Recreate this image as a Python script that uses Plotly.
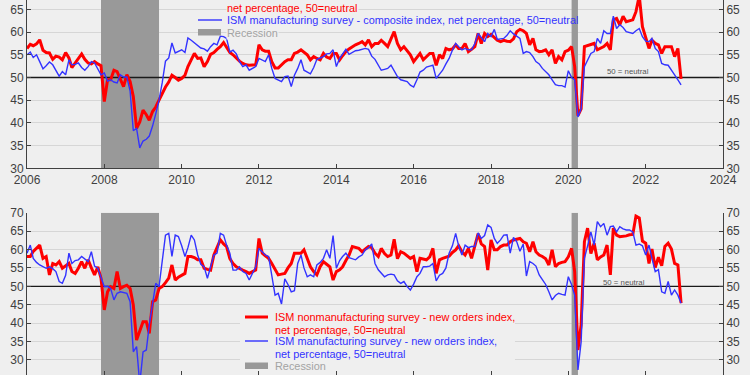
import pandas as pd
import plotly.graph_objects as go

months = pd.date_range("2006-01-01", "2022-12-01", freq="MS")

# ISM nonmanufacturing composite (top, red)
serv_comp = [
    56.4, 57.3, 57.0, 57.4, 58.3, 56.0, 55.5, 55.4, 54.0, 54.7, 54.5, 53.9,
    55.5, 54.3, 52.2, 53.2, 54.2, 55.2, 54.0, 53.2, 53.0, 53.5, 53.0, 52.6,
    44.7, 49.5, 49.5, 51.6, 51.3, 49.5, 48.0, 50.6, 49.1, 45.8, 38.8, 40.2,
    42.8, 41.8, 40.6, 42.5, 43.5, 45.0, 46.5, 47.9, 49.0, 50.5, 50.0, 49.4,
    49.8, 50.5, 52.4, 54.0, 55.3, 54.2, 54.3, 52.4, 53.5, 55.1, 55.5, 56.2,
    56.8, 57.7, 56.5, 55.5, 55.0, 54.2, 53.6, 53.1, 52.8, 52.7, 52.7, 52.8,
    57.2, 56.1, 55.8, 55.8, 53.5, 52.1, 52.1, 52.8, 53.5, 53.9, 53.9, 55.3,
    55.6, 56.1, 55.5, 55.0, 53.9, 54.6, 54.2, 53.9, 55.3, 54.5, 54.2, 55.3,
    55.3, 53.9, 54.8, 55.7, 56.3, 56.8, 57.2, 57.5, 57.9, 57.2, 58.3, 56.8,
    57.5, 57.5, 58.2, 57.5, 56.8, 58.5, 60.1, 57.5, 56.1, 56.8, 55.9, 55.0,
    53.5, 54.5, 55.3, 53.9, 54.6, 55.3, 55.3, 52.7, 55.0, 54.2, 56.4, 56.1,
    56.3, 57.2, 56.4, 56.4, 57.5, 55.7, 56.2, 56.8, 59.7, 57.5, 59.7, 59.0,
    59.5, 58.7, 58.2, 57.9, 58.2, 58.0, 57.9, 58.5, 60.1, 60.6, 60.3, 59.7,
    57.2, 58.6, 56.1, 55.7, 55.8, 56.1, 55.0, 56.1, 53.1, 54.6, 53.9, 55.7,
    56.0, 56.8, 52.4, 41.6, 43.1, 56.8, 57.0, 57.2, 57.5, 56.1, 56.5, 56.8,
    57.5, 56.1, 62.7, 63.0, 61.6, 63.5, 62.3, 62.5, 62.7, 64.5, 68.0, 61.2,
    59.0, 56.4, 58.2, 57.5, 57.2, 55.3, 56.8, 56.8, 56.8, 54.6, 56.4, 49.7,
]

# ISM manufacturing composite (top, blue)
mfg_comp = [
    55.0, 55.6, 54.4, 55.0, 53.5, 51.9, 52.6, 53.4, 52.8, 51.5, 50.3, 51.3,
    50.6, 53.9, 52.8, 52.9, 53.2, 52.2, 51.6, 52.4, 53.5, 53.2, 52.0, 50.6,
    51.0, 49.2, 49.5, 49.0, 48.8, 50.6, 50.1, 50.1, 47.0, 38.3, 38.8, 34.5,
    36.0, 36.4, 37.1, 39.3, 42.0, 45.0, 48.8, 53.6, 54.3, 57.6, 55.4, 55.8,
    56.1, 55.5, 58.7, 58.2, 57.6, 57.0, 56.5, 56.3, 55.8, 56.8, 57.5, 57.2,
    59.1, 59.0, 58.6, 55.6, 56.0, 55.2, 53.5, 52.4, 52.8, 51.6, 52.0, 52.4,
    54.2, 53.8, 53.5, 55.0, 52.0, 49.8, 49.5, 49.1, 50.2, 50.3, 48.0, 50.5,
    52.0, 53.9, 51.6, 51.2, 50.8, 52.2, 54.0, 54.3, 54.6, 55.2, 55.3, 56.1,
    52.4, 54.2, 55.1, 56.2, 55.1, 55.5, 55.9, 56.0, 56.2, 56.4, 56.2, 54.7,
    54.0, 52.7, 51.6, 51.8, 52.0, 52.7, 51.5, 50.2, 49.5, 49.3, 49.1, 48.3,
    47.9, 49.5, 51.2, 51.6, 52.3, 52.5, 52.7, 49.8, 50.7, 51.6, 53.0, 54.2,
    56.0, 57.5, 56.8, 56.1, 56.4, 56.1, 56.1, 57.5, 59.7, 58.8, 57.9, 59.7,
    59.0, 60.6, 58.4, 58.5, 58.6, 59.3, 60.3, 59.6, 59.0, 58.6, 55.3, 55.7,
    55.5, 54.6, 53.5, 53.0, 52.0, 51.2, 50.6, 49.5, 48.4, 48.2, 48.2, 47.9,
    51.5, 50.0, 49.5, 41.3, 43.1, 52.4, 54.0, 55.3, 55.7, 58.6, 57.5, 60.3,
    59.7, 59.7, 63.5, 60.8, 61.6, 61.0, 60.1, 59.9, 59.7, 60.3, 60.8, 59.0,
    58.0, 57.9, 58.6, 56.4, 55.7, 53.1, 52.8, 52.7, 51.5, 50.6, 49.5, 48.4,
]

# ISM nonmanufacturing new orders (bottom, red)
serv_new = [
    58.1, 58.1, 59.5, 60.5, 61.2, 57.6, 58.1, 53.1, 56.2, 55.8, 56.7, 54.9,
    55.5, 56.2, 54.0, 53.5, 54.9, 56.7, 54.9, 57.2, 55.0, 53.1, 55.3, 52.2,
    43.6, 48.5, 49.9, 49.4, 54.0, 49.4, 49.9, 50.3, 49.4, 44.9, 35.4, 37.7,
    40.4, 40.4, 37.2, 45.8, 46.3, 49.4, 49.9, 51.0, 52.2, 55.8, 51.7, 52.5,
    53.1, 53.5, 58.1, 58.1, 57.8, 57.2, 57.2, 54.9, 54.6, 54.4, 58.5, 60.3,
    62.6, 61.5, 60.8, 57.5, 56.2, 55.3, 54.8, 54.4, 54.0, 53.5, 54.0, 54.4,
    63.0, 59.0, 58.3, 57.6, 56.2, 54.5, 53.1, 53.3, 53.5, 55.0, 56.2, 59.0,
    59.0, 59.0, 59.9, 57.6, 55.3, 54.0, 53.1, 55.3, 56.7, 56.0, 55.3, 51.7,
    54.0, 54.5, 55.3, 57.0, 58.5, 60.8, 60.5, 60.3, 59.4, 60.0, 60.8, 60.5,
    59.0, 58.1, 60.3, 58.9, 58.1, 58.5, 62.8, 57.5, 59.4, 59.0, 58.2, 57.6,
    58.1, 54.0, 57.6, 57.4, 57.2, 58.0, 60.3, 53.5, 57.2, 57.6, 57.8, 58.2,
    59.2, 59.9, 61.0, 59.4, 58.5, 60.3, 57.6, 61.0, 64.3, 61.5, 60.8, 54.4,
    62.6, 59.9, 59.9, 60.8, 61.2, 61.2, 62.1, 62.6, 62.8, 63.0, 62.1, 61.7,
    59.4, 62.1, 59.4, 58.5, 58.1, 57.5, 55.8, 59.9, 55.3, 56.2, 56.5, 56.7,
    58.0, 60.3, 54.0, 32.7, 39.5, 62.1, 65.8, 58.9, 61.7, 57.2, 58.0, 58.5,
    61.2, 53.1, 65.8, 63.9, 63.5, 63.5, 63.7, 64.0, 64.1, 69.1, 68.6, 62.3,
    61.7, 56.2, 60.1, 55.1, 57.9, 55.6, 60.8, 61.7, 60.1, 56.2, 55.8, 45.4,
]

# ISM manufacturing new orders (bottom, blue)
mfg_new = [
    59.0, 61.2, 57.6, 56.5, 55.8, 55.3, 54.9, 55.3, 54.8, 54.0, 51.3, 50.8,
    53.0, 59.0, 56.2, 57.0, 57.2, 58.1, 57.5, 56.7, 59.4, 55.5, 54.9, 52.2,
    49.9, 50.0, 49.4, 46.3, 48.1, 48.5, 48.3, 48.1, 45.8, 32.2, 33.6, 23.5,
    32.2, 32.7, 39.5, 45.8, 50.8, 49.9, 56.7, 63.9, 64.4, 58.1, 63.9, 63.5,
    61.0, 58.1, 60.5, 63.9, 62.6, 58.5, 56.0, 55.3, 52.2, 55.0, 58.5, 59.0,
    64.4, 63.9, 61.2, 59.0, 54.4, 54.4, 55.3, 54.0, 53.5, 51.7, 53.5, 55.3,
    60.3, 59.5, 58.5, 58.1, 53.1, 47.6, 48.1, 45.2, 52.0, 50.5, 48.5, 48.8,
    56.2, 58.5, 55.0, 52.6, 53.1, 52.6, 55.8, 56.5, 57.6, 59.9, 57.6, 63.8,
    54.9, 57.0, 58.1, 59.0, 57.8, 57.6, 57.2, 58.0, 58.5, 59.9, 60.5, 61.5,
    56.2, 54.5, 53.5, 52.6, 53.1, 53.3, 53.1, 51.5, 50.8, 51.3, 49.9, 49.0,
    50.6, 52.6, 53.5, 55.3, 55.3, 55.5, 56.2, 51.5, 53.0, 53.5, 55.0, 59.0,
    61.0, 64.4, 61.0, 58.5, 61.2, 60.5, 60.8, 60.8, 64.5, 63.0, 63.8, 66.7,
    66.0, 63.0, 61.7, 62.6, 63.9, 64.0, 59.0, 63.3, 62.1, 59.5, 61.5, 52.8,
    56.7, 56.2, 55.5, 53.1, 51.8, 50.5, 48.5, 46.3, 47.5, 48.1, 47.8, 47.6,
    52.6, 50.4, 47.6, 27.3, 34.9, 57.6, 61.0, 64.8, 61.2, 67.6, 66.2, 67.1,
    63.9, 66.2, 66.4, 64.8, 66.2, 65.6, 65.3, 65.3, 64.8, 61.2, 61.5, 61.0,
    58.5, 61.2, 57.6, 54.0, 54.5, 48.5, 48.1, 51.3, 47.6, 49.0, 47.6, 45.4,
]

recessions = [("2007-12-01", "2009-06-01"), ("2020-02-01", "2020-04-01")]
x_tick_years = list(range(2006, 2025, 2))
top_ticks = [30, 35, 40, 45, 50, 55, 60, 65]
bottom_ticks = [30, 35, 40, 45, 50, 55, 60, 65, 70]
neutral_level = 50

RED = "#ff0000"
BLUE = "#3333ff"
BG = "#efefef"
AX = "#404040"
GRID = "#d6d6d6"
FONT = "Liberation Sans, Arial, sans-serif"

W, H, ML, MR = 750, 375, 27, 27
PW = W - ML - MR
START = pd.Timestamp("2006-01-01")
YEARS = 18


def px(v):
    return (v - ML) / PW


def py(v):
    return 1 - v / H


def px_date(v):
    yrs = (v - ML) / PW * YEARS
    return (START + pd.Timedelta(days=yrs * 365.25)).strftime("%Y-%m-%d")


fig = go.Figure()
fig.add_trace(go.Scatter(x=months, y=serv_comp, xaxis="x", yaxis="y", mode="lines",
                         line=dict(color=RED, width=3), showlegend=False))
fig.add_trace(go.Scatter(x=months, y=mfg_comp, xaxis="x", yaxis="y", mode="lines",
                         line=dict(color=BLUE, width=1.4), showlegend=False))
fig.add_trace(go.Scatter(x=months, y=serv_new, xaxis="x2", yaxis="y2", mode="lines",
                         line=dict(color=RED, width=3), showlegend=False))
fig.add_trace(go.Scatter(x=months, y=mfg_new, xaxis="x2", yaxis="y2", mode="lines",
                         line=dict(color=BLUE, width=1.4), showlegend=False))
# invisible traces so the mirrored right-hand axes get drawn
fig.add_trace(go.Scatter(x=months, y=mfg_comp, xaxis="x", yaxis="y3", mode="lines",
                         opacity=0, hoverinfo="skip", showlegend=False))
fig.add_trace(go.Scatter(x=months, y=mfg_new, xaxis="x2", yaxis="y4", mode="lines",
                         opacity=0, hoverinfo="skip", showlegend=False))

xr = ["2006-01-01", "2024-01-01"]
tickvals_x = [f"{y}-01-01" for y in x_tick_years]
ticktext_x = [str(y) for y in x_tick_years]
tf = dict(family=FONT, size=12, color=AX)

common_x = dict(range=xr, tickvals=tickvals_x, ticktext=ticktext_x, ticks="inside",
                ticklen=4, tickcolor=AX, showgrid=False, zeroline=False, tickfont=tf,
                automargin=False)
common_y = dict(ticks="inside", ticklen=4, tickcolor=AX, showline=True,
                linecolor=AX, linewidth=1, zeroline=False, tickfont=tf, automargin=False)

top_dom = [1 - 168.3 / H, 1]
bot_dom = [0, 1 - 212.7 / H]
top_range = [30, 67.07]
bot_range = [25.9, 70]

fig.update_layout(
    width=W, height=H, autosize=False,
    margin=dict(l=ML, r=MR, t=0, b=0, pad=0, autoexpand=False),
    paper_bgcolor=BG, plot_bgcolor=BG,
    showlegend=False,
    font=dict(family=FONT, color=AX),
    xaxis=dict(domain=[0, 1], anchor="y", showline=True, linecolor=AX, linewidth=1, **common_x),
    yaxis=dict(domain=top_dom, anchor="x", range=top_range, tickvals=top_ticks,
               showgrid=True, gridcolor=GRID, gridwidth=1, **common_y),
    yaxis3=dict(overlaying="y", side="right", anchor="x", range=top_range, tickvals=top_ticks,
                showgrid=False, **common_y),
    xaxis2=dict(domain=[0, 1], anchor="y2", showline=False, showticklabels=False, **common_x),
    yaxis2=dict(domain=bot_dom, anchor="x2", range=bot_range, tickvals=bottom_ticks,
                showgrid=True, gridcolor=GRID, gridwidth=1, **common_y),
    yaxis4=dict(overlaying="y2", side="right", anchor="x2", range=bot_range, tickvals=bottom_ticks,
                showgrid=False, **common_y),
)

shapes = []
for xref, yref, rng in (("x", "y", top_range), ("x2", "y2", bot_range)):
    for r0, r1 in recessions:
        shapes.append(dict(type="rect", xref=xref, yref=yref, x0=r0, x1=r1, y0=rng[0], y1=rng[1],
                           fillcolor="#999999", line=dict(width=0), layer="between"))

# bottom legend background (hides gridlines behind the legend block)
shapes.append(dict(type="rect", xref="x2", yref="y2", x0=px_date(240), x1=px_date(515),
                   y0=bot_range[0], y1=44.2, fillcolor=BG, line=dict(width=0), layer="between"))

for xref, yref in (("x", "y"), ("x2", "y2")):
    shapes.append(dict(type="line", xref=xref, yref=yref, x0=xr[0], x1=xr[1],
                       y0=neutral_level, y1=neutral_level, line=dict(color="#1a1a1a", width=1.3),
                       layer="between"))

# legend symbols
shapes += [
    dict(type="line", xref="paper", yref="paper", x0=px(198), x1=px(222), y0=py(-6), y1=py(-6),
         line=dict(color=RED, width=3)),
    dict(type="line", xref="paper", yref="paper", x0=px(198), x1=px(222), y0=py(20), y1=py(20),
         line=dict(color=BLUE, width=1.4)),
    dict(type="rect", xref="paper", yref="paper", x0=px(198), x1=px(221), y0=py(35.5), y1=py(29),
         fillcolor="#999999", line=dict(width=0)),
    dict(type="line", xref="paper", yref="paper", x0=px(245), x1=px(268), y0=py(317), y1=py(317),
         line=dict(color=RED, width=3)),
    dict(type="line", xref="paper", yref="paper", x0=px(245), x1=px(268), y0=py(341), y1=py(341),
         line=dict(color=BLUE, width=1.4)),
    dict(type="rect", xref="paper", yref="paper", x0=px(245), x1=px(268), y0=py(369), y1=py(362.5),
         fillcolor="#999999", line=dict(width=0)),
]
fig.update_layout(shapes=shapes)

legend_font = 10.9


def label(text, x, y, color, size=legend_font, anchor="left", bg=None):
    d = dict(text=text, xref="paper", yref="paper", x=px(x), y=py(y), xanchor=anchor,
             yanchor="middle", showarrow=False, borderpad=0,
             font=dict(family=FONT, size=size, color=color))
    if bg:
        d["bgcolor"] = bg
    return d


fig.update_layout(annotations=[
    label("ISM nonmanufacturing survey - composite index,", 226, -6, RED),
    label("net percentage, 50=neutral", 226, 7.5, RED, bg=BG),
    label("ISM manufacturing survey - composite index, net percentage, 50=neutral", 226, 20, BLUE),
    label("Recession", 226, 32.5, "#a3a3a3", bg=BG),
    label("ISM nonmanufacturing survey - new orders index,", 274, 317, RED),
    label("net percentage, 50=neutral", 274, 329.5, RED),
    label("ISM manufacturing survey - new orders index,", 274, 341, BLUE),
    label("net percentage, 50=neutral", 274, 353.5, BLUE),
    label("Recession", 274, 366, "#a3a3a3"),
    label("50 = neutral", 628, 72, "#555555", size=7.8, anchor="center"),
    label("50 = neutral", 624, 282, "#555555", size=7.8, anchor="center"),
])

fig.write_html("out.html", config={"displayModeBar": False, "responsive": False},
               post_script="document.body.style.margin='0';document.body.style.overflow='hidden';")
